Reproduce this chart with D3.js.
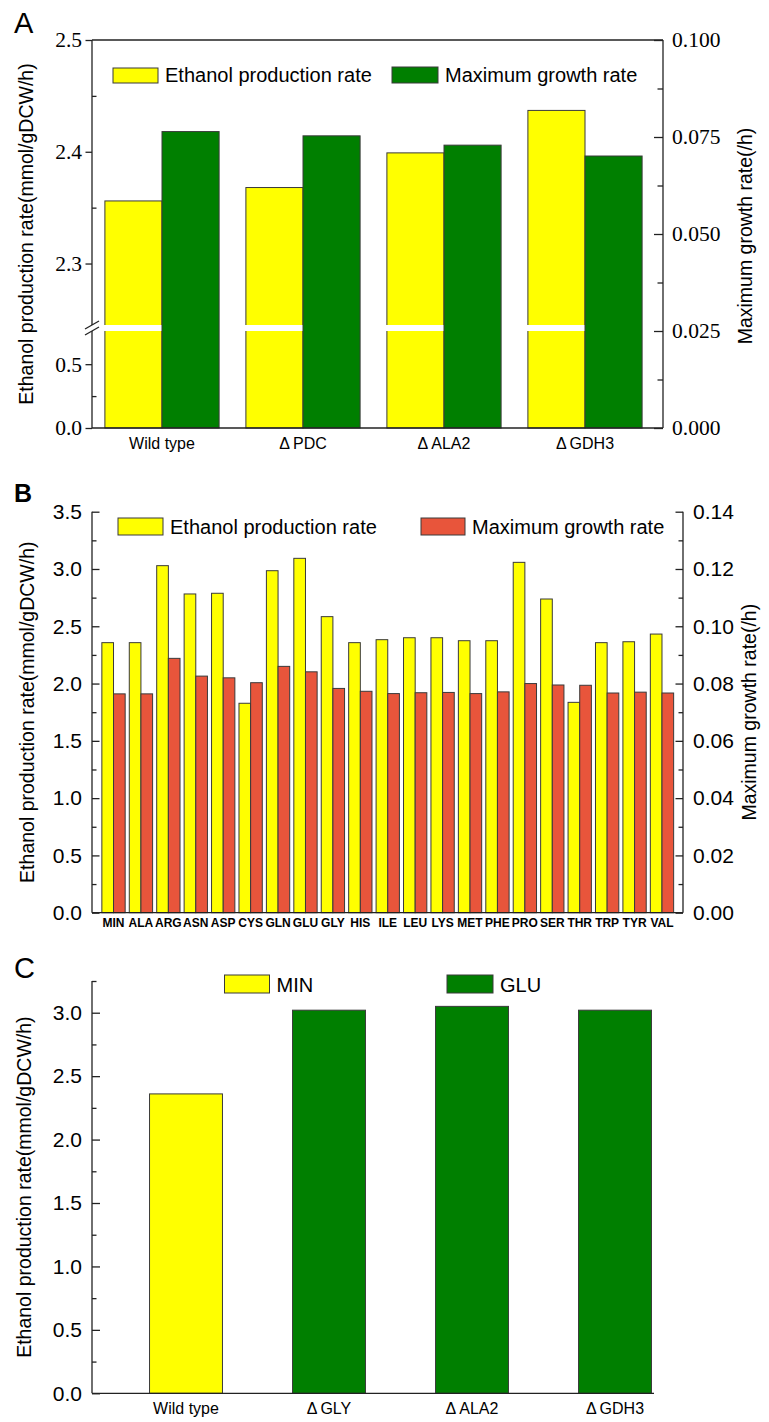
<!DOCTYPE html>
<html>
<head>
<meta charset="utf-8">
<script src="https://cdn.jsdelivr.net/npm/d3@7"></script>
<style>
  body { margin: 0; background: #fff; }
  svg { display: block; }
</style>
</head>
<body>
<svg id="fig" width="769" height="1422"></svg>
<script>
// ---------- data ----------
// Panel A: knockout strains, ethanol (left, broken axis) and growth (right axis)
const strainsA = ["Wild type", "PDC", "ALA2", "GDH3"];
const deltaA = [false, true, true, true];
const ethanolA = [2.356, 2.368, 2.399, 2.437];
const growthA = [0.0764, 0.0753, 0.0729, 0.0701];
const seriesA = ["Ethanol production rate", "Maximum growth rate"];
const ticksAUpper = [2.3, 2.4, 2.5];
const ticksALower = [0.0, 0.5];
const ticksARight = [0, 0.025, 0.05, 0.075, 0.1];

// Panel B: single amino-acid supplementation
const aminoAcids = ["MIN", "ALA", "ARG", "ASN", "ASP", "CYS", "GLN", "GLU", "GLY", "HIS", "ILE",
                    "LEU", "LYS", "MET", "PHE", "PRO", "SER", "THR", "TRP", "TYR", "VAL"];
const ethanolB = [2.357, 2.357, 3.029, 2.782, 2.788, 1.828, 2.985, 3.093, 2.584, 2.357, 2.383,
                  2.400, 2.400, 2.374, 2.374, 3.058, 2.738, 1.836, 2.357, 2.365, 2.432];
const growthB = [0.0764, 0.0764, 0.0888, 0.0826, 0.0820, 0.0803, 0.0860, 0.0841, 0.0783, 0.0773, 0.0765,
                 0.0768, 0.0769, 0.0765, 0.0771, 0.0800, 0.0795, 0.0794, 0.0767, 0.0770, 0.0767];
const seriesB = ["Ethanol production rate", "Maximum growth rate"];
const ticksBLeft = [0, 0.5, 1.0, 1.5, 2.0, 2.5, 3.0, 3.5];
const ticksBRight = [0, 0.02, 0.04, 0.06, 0.08, 0.10, 0.12, 0.14];

// Panel C: knockouts grown on GLU vs wild type on MIN
const strainsC = ["Wild type", "GLY", "ALA2", "GDH3"];
const deltaC = [false, true, true, true];
const ethanolC = [2.36, 3.02, 3.05, 3.02];
const mediumC = ["MIN", "GLU", "GLU", "GLU"];
const media = ["MIN", "GLU"];
const ticksCLeft = [0, 0.5, 1.0, 1.5, 2.0, 2.5, 3.0];

// ---------- style ----------
const SANS = '"Liberation Sans", Arial, Helvetica, sans-serif';
const SERIF = '"Liberation Serif", "Times New Roman", Times, serif';
const YELLOW = "#ffff00", GREEN = "#007f00", RED = "#e8553b";
const EDGE = "#3a3a3a", AXIS = "#222";
const TITLE_Y = "Ethanol production rate(mmol/gDCW/h)";
const TITLE_R = "Maximum growth rate(/h)";

const svg = d3.select("#fig");
svg.append("rect").attr("width", 769).attr("height", 1422).attr("fill", "#fff");

function line(g, x1, y1, x2, y2, w = 1.3) {
  g.append("line").attr("x1", x1).attr("y1", y1).attr("x2", x2).attr("y2", y2)
    .attr("stroke", AXIS).attr("stroke-width", w);
}
function styleAxis(g, font, size) {
  g.attr("font-family", font).attr("font-size", size);
  g.select(".domain").remove();
  g.selectAll(".tick line").attr("stroke", AXIS).attr("stroke-width", 1.3);
  g.selectAll(".tick text").style("font-family", font).style("font-size", size + "px").attr("fill", "#000");
}
function minorAxis(g, axisFn, scale, values, x, size) {
  g.append("g").attr("transform", `translate(${x},0)`)
    .call(axisFn(scale).tickValues(values).tickSize(size).tickFormat(""))
    .call(a => { a.select(".domain").remove(); a.selectAll(".tick line").attr("stroke", AXIS).attr("stroke-width", 1.3); });
}
function vTitle(g, x, y, text) {
  g.append("text").attr("transform", `translate(${x},${y}) rotate(-90)`)
    .attr("text-anchor", "middle").style("font-family", SANS).style("font-size", "19.5px")
    .attr("fill", "#000").text(text);
}
function strainLabel(g, x, y, name, delta) {
  const t = g.append("text").attr("x", x).attr("y", y).attr("text-anchor", "middle")
    .style("font-family", SANS).style("font-size", "16px").attr("fill", "#000");
  if (delta) { t.append("tspan").text("Δ"); t.append("tspan").attr("dx", 3).text(name); }
  else t.text(name);
}
function legendItem(g, x, y, w, h, fill, label) {
  g.append("rect").attr("x", x).attr("y", y).attr("width", w).attr("height", h)
    .attr("fill", fill).attr("stroke", EDGE).attr("stroke-width", 1);
  g.append("text").attr("x", x + w + 7).attr("y", y + h - 1)
    .style("font-family", SANS).style("font-size", "20px").attr("fill", "#000").text(label);
}

// ================= Panel A =================
{
  const g = svg.append("g");
  const L = 92, R = 663, T = 40, B = 428;
  const xA = d3.scaleBand().domain(strainsA).range([91.5, 655.5]).paddingInner(0.19).paddingOuter(0.095);
  const xS = d3.scaleBand().domain(seriesA).range([0, xA.bandwidth()]);
  const yUp = d3.scaleLinear().domain([2.245, 2.5]).range([325, T]);
  const yLo = d3.scaleLinear().domain([0, 0.76]).range([B, 331]);
  const yR = d3.scaleLinear().domain([0, 0.1]).range([B, T]);

  // ethanol bars span both segments of the broken axis
  g.selectAll(".barE").data(strainsA).join("rect")
    .attr("x", d => xA(d) + xS(seriesA[0])).attr("width", xS.bandwidth())
    .attr("y", (d, i) => yUp(ethanolA[i])).attr("height", (d, i) => yLo(0) - yUp(ethanolA[i]))
    .attr("fill", YELLOW).attr("stroke", EDGE).attr("stroke-width", 1);
  // break band
  g.selectAll(".gap").data(strainsA).join("rect")
    .attr("x", d => xA(d) + xS(seriesA[0]) - 1).attr("width", xS.bandwidth() + 1)
    .attr("y", yUp.range()[0]).attr("height", yLo.range()[1] - yUp.range()[0])
    .attr("fill", "#fff");
  g.selectAll(".barG").data(strainsA).join("rect")
    .attr("x", d => xA(d) + xS(seriesA[1])).attr("width", xS.bandwidth())
    .attr("y", (d, i) => yR(growthA[i])).attr("height", (d, i) => yR(0) - yR(growthA[i]))
    .attr("fill", GREEN).attr("stroke", EDGE).attr("stroke-width", 1);

  // frame with break on the left axis
  line(g, L, T, R, T); line(g, R, T, R, B); line(g, L, B, R, B);
  line(g, L, T, L, yUp.range()[0]); line(g, L, yLo.range()[1], L, B);
  const yb1 = yUp.range()[0], yb2 = yLo.range()[1];
  line(g, L - 7, yb1 + 4, L + 7, yb1 - 4, 1.2);
  line(g, L - 7, yb2 + 4, L + 7, yb2 - 4, 1.2);

  // left axis ticks
  const fmt1 = d3.format(".1f");
  g.append("g").attr("transform", `translate(${L},0)`)
    .call(d3.axisLeft(yUp).tickValues(ticksAUpper).tickSize(6.5).tickPadding(3.5).tickFormat(fmt1))
    .call(a => styleAxis(a, SERIF, 21.5));
  g.append("g").attr("transform", `translate(${L},0)`)
    .call(d3.axisLeft(yLo).tickValues(ticksALower).tickSize(6.5).tickPadding(3.5).tickFormat(fmt1))
    .call(a => styleAxis(a, SERIF, 21.5));
  minorAxis(g, d3.axisLeft, yUp, [2.35, 2.45], L, -4.5);
  minorAxis(g, d3.axisLeft, yLo, [0.25], L, -4.5);

  // right axis ticks
  g.append("g").attr("transform", `translate(${R},0)`)
    .call(d3.axisRight(yR).tickValues(ticksARight).tickSize(-9).tickPadding(9).tickFormat(d3.format(".3f")))
    .call(a => styleAxis(a, SERIF, 21.5));
  minorAxis(g, d3.axisRight, yR, [0.0125, 0.0375, 0.0625, 0.0875], R, -5.5);

  vTitle(g, 33, (T + B) / 2, TITLE_Y);
  vTitle(g, 752, 236, TITLE_R);

  strainsA.forEach((s, i) => strainLabel(g, xA(s) + xA.bandwidth() / 2, 449, s, deltaA[i]));

  legendItem(g, 113, 68, 45, 15, YELLOW, seriesA[0]);
  legendItem(g, 392, 67, 46, 16, GREEN, seriesA[1]);

  g.append("text").attr("x", 14).attr("y", 33).style("font-family", SANS).style("font-size", "29px")
    .attr("fill", "#000").text("A");
}

// ================= Panel B =================
{
  const g = svg.append("g");
  const L = 92, R = 683, T = 511.7, B = 912.7;
  const xB = d3.scaleBand().domain(aminoAcids).range([99.8, 675.7]).paddingInner(0.15).paddingOuter(0.075);
  const xS = d3.scaleBand().domain(seriesB).range([0, xB.bandwidth()]);
  const yL = d3.scaleLinear().domain([0, 3.5]).range([B, T]);
  const yR = d3.scaleLinear().domain([0, 0.14]).range([B, T]);

  g.selectAll(".barE").data(aminoAcids).join("rect")
    .attr("x", d => xB(d) + xS(seriesB[0])).attr("width", xS.bandwidth())
    .attr("y", (d, i) => yL(ethanolB[i])).attr("height", (d, i) => yL(0) - yL(ethanolB[i]))
    .attr("fill", YELLOW).attr("stroke", EDGE).attr("stroke-width", 1);
  g.selectAll(".barG").data(aminoAcids).join("rect")
    .attr("x", d => xB(d) + xS(seriesB[1])).attr("width", xS.bandwidth())
    .attr("y", (d, i) => yR(growthB[i])).attr("height", (d, i) => yR(0) - yR(growthB[i]))
    .attr("fill", RED).attr("stroke", EDGE).attr("stroke-width", 1);

  line(g, L, T, L, B); line(g, R, T, R, B); line(g, L, B, R, B);

  g.append("g").attr("transform", `translate(${L},0)`)
    .call(d3.axisLeft(yL).tickValues(ticksBLeft).tickSize(-7.5).tickPadding(10).tickFormat(d3.format(".1f")))
    .call(a => styleAxis(a, SANS, 21));
  minorAxis(g, d3.axisLeft, yL, ticksBLeft.slice(0, -1).map(v => v + 0.25), L, -4.5);
  g.append("g").attr("transform", `translate(${R},0)`)
    .call(d3.axisRight(yR).tickValues(ticksBRight).tickSize(-7.5).tickPadding(10).tickFormat(d3.format(".2f")))
    .call(a => styleAxis(a, SANS, 21));
  minorAxis(g, d3.axisRight, yR, ticksBRight.slice(0, -1).map(v => v + 0.01), R, -4.5);

  g.selectAll(".xl").data(aminoAcids).join("text")
    .attr("x", d => xB(d) + xB.bandwidth() / 2).attr("y", 927).attr("text-anchor", "middle")
    .style("font-family", SANS).style("font-size", "12px").style("font-weight", "bold").attr("fill", "#000")
    .text(d => d);

  vTitle(g, 34, (T + B) / 2, TITLE_Y);
  vTitle(g, 756, (T + B) / 2, TITLE_R);

  legendItem(g, 118, 518, 45, 17, YELLOW, seriesB[0]);
  legendItem(g, 421, 518, 44, 17, RED, seriesB[1]);

  g.append("text").attr("x", 14).attr("y", 502).style("font-family", SANS).style("font-size", "25px")
    .style("font-weight", "bold").attr("fill", "#000").text("B");
}

// ================= Panel C =================
{
  const g = svg.append("g");
  const L = 92, T = 981, B = 1393.3, XR = 654;
  const xC = d3.scaleBand().domain(strainsC).range([114.5, 686.5]).paddingInner(0.49).paddingOuter(0.245);
  const yC = d3.scaleLinear().domain([0, 3.25]).range([B, T]);
  const color = d3.scaleOrdinal().domain(media).range([YELLOW, GREEN]);

  g.selectAll(".bar").data(strainsC).join("rect")
    .attr("x", d => xC(d)).attr("width", xC.bandwidth())
    .attr("y", (d, i) => yC(ethanolC[i])).attr("height", (d, i) => yC(0) - yC(ethanolC[i]))
    .attr("fill", (d, i) => color(mediumC[i])).attr("stroke", EDGE).attr("stroke-width", 1);

  line(g, L, T, L, B); line(g, L, B, XR, B);

  g.append("g").attr("transform", `translate(${L},0)`)
    .call(d3.axisLeft(yC).tickValues(ticksCLeft).tickSize(-8).tickPadding(10).tickFormat(d3.format(".1f")))
    .call(a => styleAxis(a, SANS, 21));
  minorAxis(g, d3.axisLeft, yC, ticksCLeft.map(v => v + 0.25), L, -4.5);

  strainsC.forEach((s, i) => strainLabel(g, xC(s) + xC.bandwidth() / 2, 1414, s, deltaC[i]));

  vTitle(g, 31, (T + B) / 2, TITLE_Y);

  legendItem(g, 224.5, 975, 45, 18, color("MIN"), media[0]);
  legendItem(g, 447, 975, 46, 18, color("GLU"), media[1]);

  g.append("text").attr("x", 14).attr("y", 978).style("font-family", SANS).style("font-size", "29px")
    .attr("fill", "#000").text("C");
}
</script>
</body>
</html>
